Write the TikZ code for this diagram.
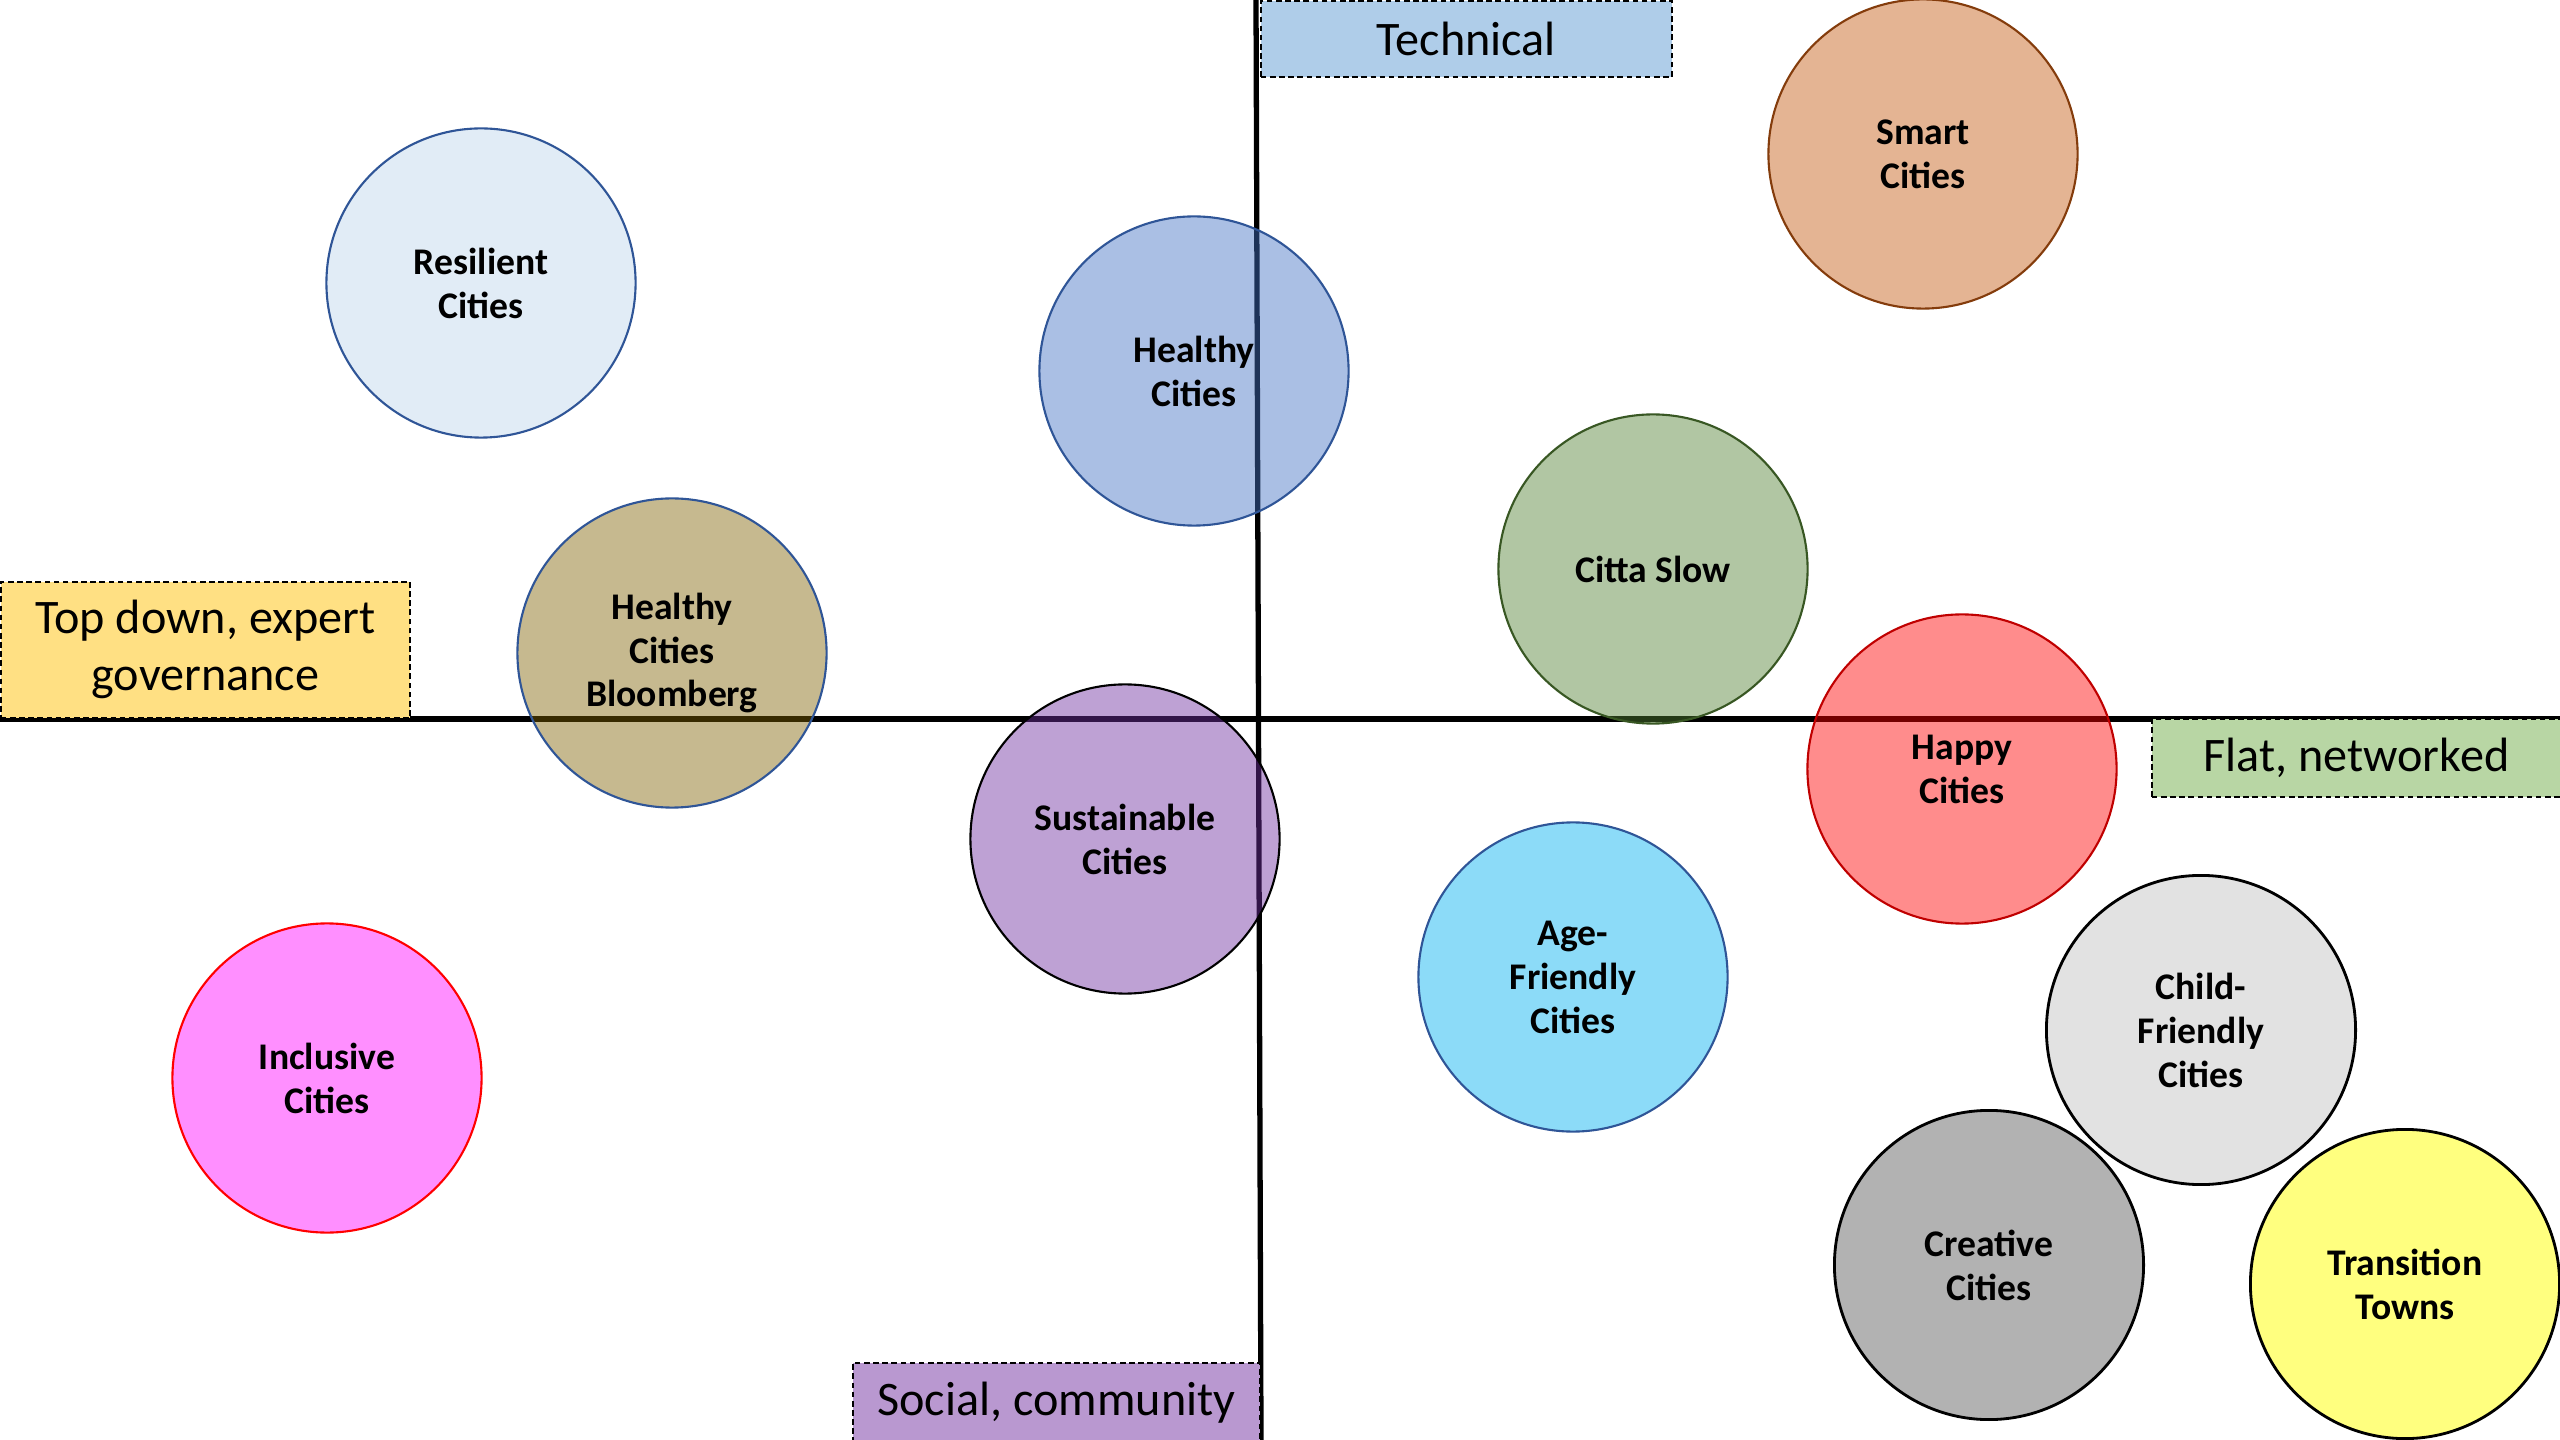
\documentclass[tikz,border=0pt]{standalone}
\usepackage{fontspec}
\setmainfont{Carlito}
\definecolor{edgeblue}{HTML}{2F5597}
\definecolor{edgebrown}{HTML}{843C0C}
\definecolor{edgegreen}{HTML}{385723}
\definecolor{edgered}{HTML}{C00000}
\definecolor{pureRed}{HTML}{FF0000}
\definecolor{pureMagenta}{HTML}{FF00FF}
\definecolor{pureYellow}{HTML}{FFFF00}
\definecolor{cblue}{HTML}{4472C4}
\definecolor{cbrown}{HTML}{C55A11}
\definecolor{cgreen}{HTML}{548235}
\definecolor{cgold}{HTML}{7F6000}
\definecolor{cpurple}{HTML}{7030A0}
\definecolor{ccyan}{HTML}{00B0F0}
\definecolor{cgrey}{HTML}{BFBFBF}
\definecolor{cdgrey}{HTML}{595959}
\definecolor{cresil}{HTML}{E1ECF6}
\definecolor{techfill}{HTML}{AFCDE9}
\definecolor{topfill}{HTML}{FFE083}
\definecolor{flatfill}{HTML}{B8D6A4}
\definecolor{socfill}{HTML}{B998D0}
\tikzset{
  city/.style={circle, minimum size=3.09cm, inner sep=0pt, line width=0.6pt,
    fill opacity=0.45, text opacity=1, align=center,
    font=\bfseries\fontsize{10.7}{12.5}\selectfont},
  axbox/.style={rectangle, draw=black, line width=0.45pt, dash pattern=on 1.6pt off 1pt,
    inner sep=0pt, align=center, font=\fontsize{13.7}{16.2}\selectfont},
  axisline/.style={line width=1.5pt, black}
}
\begin{document}
\begin{tikzpicture}[x=0.01cm, y=-0.01cm]
\useasboundingbox[fill=white] (0,0) rectangle (2560,1440);
% axes
\coordinate (hl) at (0,719);
\coordinate (hr) at (2560,719);
\coordinate (vt) at (1256,0);
\coordinate (vb) at (1261,1440);
\draw[axisline] (hl) -- (hr);
\draw[axisline] (vt) -- (vb);
% axis labels
\node[axbox, fill=techfill, minimum width=4.11cm, minimum height=0.76cm, anchor=north west] (tech) at (1260,0) {Technical};
\node[axbox, fill=topfill, minimum width=4.09cm, minimum height=1.36cm, anchor=north west] (top) at (0,581) {Top down, expert\\governance};
\node[axbox, fill=flatfill, minimum width=4.09cm, minimum height=0.78cm, anchor=north west] (flat) at (2151,718) {Flat, networked};
\node[axbox, fill=socfill, minimum width=4.07cm, minimum height=0.80cm, anchor=north west] (soc) at (852,1362) {Social, community};
% circles
\node[city, draw=edgeblue, fill=cresil, fill opacity=1] (resil) at (481,283) {Resilient\\Cities};
\node[city, draw=edgebrown, fill=cbrown] (smart) at (1923,154) {Smart\\Cities};
\node[city, draw=edgeblue, fill=cblue] (healthy) at (1194,371) {Healthy\\Cities};
\node[city, draw=edgegreen, fill=cgreen] (citta) at (1653,569) {Citta Slow};
\node[city, draw=edgeblue, fill=cgold, fill opacity=0.44] (bloom) at (672,653) {Healthy\\Cities\\Bloomberg};
\node[city, draw=black, fill=cpurple] (sustain) at (1125,839) {Sustainable\\Cities};
\node[city, draw=edgered, fill=pureRed] (happy) at (1962,769) {Happy\\Cities};
\node[city, draw=edgeblue, fill=ccyan] (age) at (1573,977) {Age-\\Friendly\\Cities};
\node[city, draw=pureRed, fill=pureMagenta, fill opacity=0.44] (incl) at (327,1078) {Inclusive\\Cities};
\node[city, draw=black, line width=0.8pt, fill=cgrey] (child) at (2201,1030) {Child-\\Friendly\\Cities};
\node[city, draw=black, line width=0.8pt, fill=cdgrey, fill opacity=0.46] (creative) at (1989,1265) {Creative\\Cities};
\node[city, draw=black, line width=0.8pt, fill=pureYellow, fill opacity=0.5] (trans) at (2405,1284) {Transition\\Towns};
\end{tikzpicture}
\end{document}
